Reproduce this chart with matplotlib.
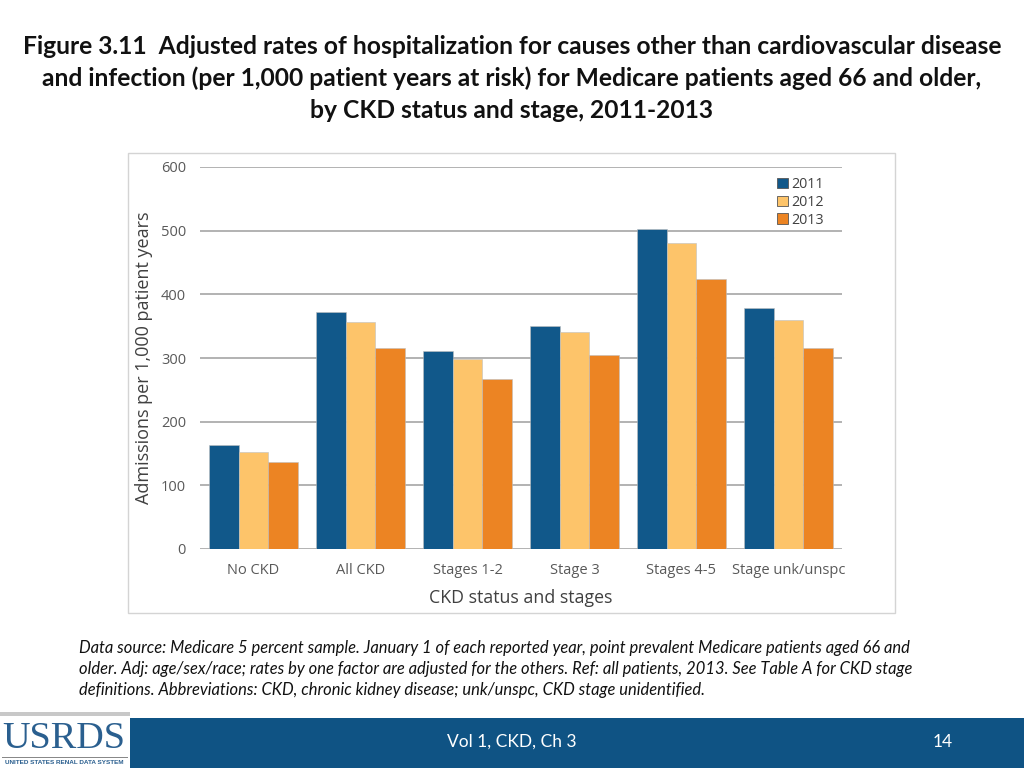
import matplotlib
matplotlib.use("Agg")
import matplotlib.pyplot as plt
from matplotlib.patches import Rectangle
import numpy as np

categories = ["No CKD", "All CKD", "Stages 1-2", "Stage 3", "Stages 4-5", "Stage unk/unspc"]
years = ["2011", "2012", "2013"]
v2011 = [163, 373, 311, 351, 502, 378]
v2012 = [153, 357, 298, 341, 481, 360]
v2013 = [137, 316, 267, 305, 424, 316]
yticks = [0, 100, 200, 300, 400, 500, 600]

colors = ["#11588a", "#fdc46a", "#ec8423"]
W, H = 1024, 768
fig = plt.figure(figsize=(10.24, 7.68), dpi=100)

def fx(x):
    return x / W

def fy(y):
    return 1 - y / H

# Title
title_lines = [
    "Figure 3.11  Adjusted rates of hospitalization for causes other than cardiovascular disease",
    "and infection (per 1,000 patient years at risk) for Medicare patients aged 66 and older,",
    "by CKD status and stage, 2011-2013",
]
for i, line in enumerate(title_lines):
    fig.text(0.5, fy(46 + 32 * i), line, ha="center", va="center",
             fontsize=17.7, fontweight="bold", family="Lato", color="#111111")

# Chart frame
fig.add_artist(Rectangle((fx(128), fy(613)), fx(895) - fx(128), fy(153) - fy(613),
                         transform=fig.transFigure, facecolor="white",
                         edgecolor="#d4d4d4", linewidth=1.0, zorder=-5))

ax = fig.add_axes([fx(200), fy(549), fx(842) - fx(200), fy(167) - fy(549)])
ax.set_zorder(5)
x = np.arange(len(categories))
bw = 0.28
for i, (vals, c, yr) in enumerate(zip([v2011, v2012, v2013], colors, years)):
    ax.bar(x + (i - 1) * bw, vals, width=bw, color=c, label=yr,
           edgecolor="#bfbfbf", linewidth=0.4, zorder=3)
ax.set_xlim(-0.5, len(categories) - 0.5)
ax.set_ylim(0, 600)
ax.set_yticks(yticks)
ax.yaxis.grid(True, color="#a6a6a6", linewidth=1.2, zorder=0)
ax.set_axisbelow(True)
for s in ax.spines.values():
    s.set_visible(False)
ax.tick_params(length=0, labelsize=10.5, labelcolor="#595959", pad=10)
ax.set_xticks(x)
ax.set_xticklabels(categories, family="Open Sans")
for lbl in ax.get_yticklabels():
    lbl.set_family("Open Sans")
ax.patch.set_alpha(0)
ax.set_ylabel("Admissions per 1,000 patient years", family="Open Sans",
              fontsize=13, color="#404040", labelpad=6)
ax.set_xlabel("CKD status and stages", family="Open Sans",
              fontsize=12.8, color="#404040", labelpad=8)
leg = ax.legend(loc="upper left", bbox_to_anchor=(fx(764), fy(164)),
                bbox_transform=fig.transFigure, frameon=False,
                prop={"family": "Open Sans", "size": 10.3},
                handlelength=0.75, handleheight=0.75, handletextpad=0.25,
                labelspacing=0.2, labelcolor="#404040")
for h in leg.legend_handles:
    h.set_edgecolor("#555555")
    h.set_linewidth(0.6)

# Footnote
foot = [
    "Data source: Medicare 5 percent sample. January 1 of each reported year, point prevalent Medicare patients aged 66 and",
    "older. Adj: age/sex/race; rates by one factor are adjusted for the others. Ref: all patients, 2013. See Table A for CKD stage",
    "definitions. Abbreviations: CKD, chronic kidney disease; unk/unspc, CKD stage unidentified.",
]
for i, line in enumerate(foot):
    fig.text(fx(79), fy(648 + 21 * i), line, ha="left", va="center",
             fontsize=11.9, style="italic", family="Lato", color="#111111")

# Footer bar
fig.add_artist(Rectangle((fx(130), 0), 1 - fx(130), fy(718), transform=fig.transFigure,
                         facecolor="#0f5384", edgecolor="none"))
fig.text(0.5, fy(742), "Vol 1, CKD, Ch 3", ha="center", va="center",
         fontsize=12.5, family="Lato", color="white")
fig.text(fx(943), fy(742), "14", ha="center", va="center",
         fontsize=12.5, family="Lato", color="white")
# Logo
fig.add_artist(Rectangle((0, fy(716)), fx(130), fy(712) - fy(716), transform=fig.transFigure,
                         facecolor="#c8c8c8", edgecolor="none"))
fig.text(fx(64), fy(739), "USRDS", ha="center", va="center", fontsize=27.5,
         family="Liberation Serif", color="#2a5f8f")
fig.add_artist(Rectangle((fx(2), fy(758)), fx(126), fy(757) - fy(758), transform=fig.transFigure,
                         facecolor="#888888", edgecolor="none"))
fig.text(fx(64), fy(763), "UNITED STATES RENAL DATA SYSTEM", ha="center", va="center",
         fontsize=4.6, fontweight="bold", family="Liberation Sans", color="#2a5f8f")

fig.savefig("out.png", dpi=100, facecolor="white")
